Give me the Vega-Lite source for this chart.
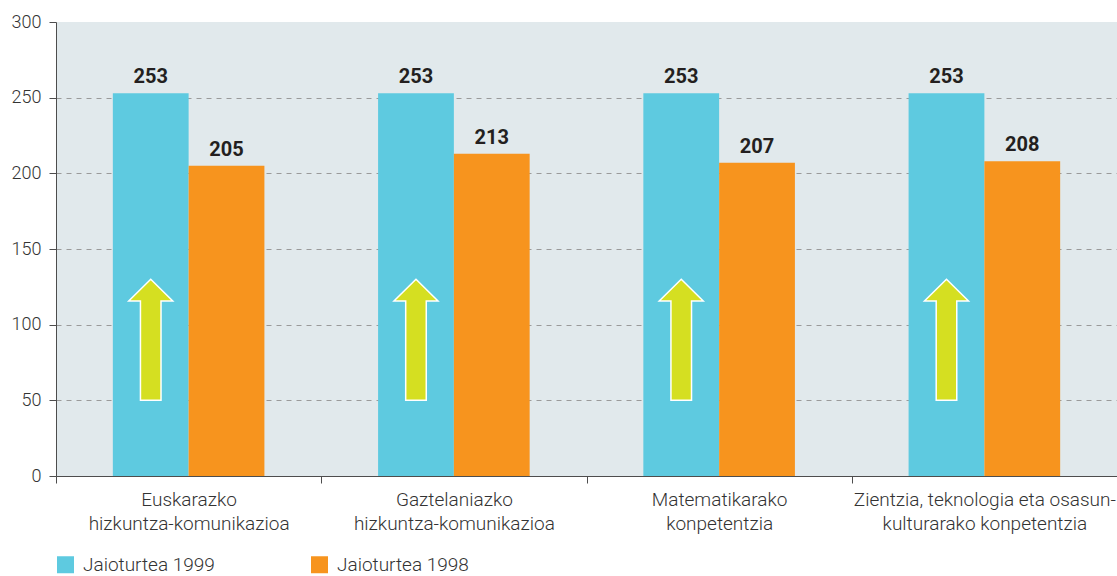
{
  "$schema": "https://vega.github.io/schema/vega-lite/v6.json",
  "width": 1061,
  "height": 454,
  "autosize": {"type": "none"},
  "padding": {"left": 56, "top": 22, "right": 0, "bottom": 100},
  "background": "white",
  "config": {
    "view": {"fill": "#e1e9ec", "stroke": null},
    "font": "Roboto"
  },
  "data": {
    "values": [
      {"cat": "Euskarazko|hizkuntza-komunikazioa", "series": "Jaioturtea 1999", "value": 253, "arrow": 90},
      {"cat": "Euskarazko|hizkuntza-komunikazioa", "series": "Jaioturtea 1998", "value": 205, "arrow": null},
      {"cat": "Gaztelaniazko|hizkuntza-komunikazioa", "series": "Jaioturtea 1999", "value": 253, "arrow": 90},
      {"cat": "Gaztelaniazko|hizkuntza-komunikazioa", "series": "Jaioturtea 1998", "value": 213, "arrow": null},
      {"cat": "Matematikarako|konpetentzia", "series": "Jaioturtea 1999", "value": 253, "arrow": 90},
      {"cat": "Matematikarako|konpetentzia", "series": "Jaioturtea 1998", "value": 207, "arrow": null},
      {"cat": "Zientzia, teknologia eta osasun-|kulturarako konpetentzia", "series": "Jaioturtea 1999", "value": 253, "arrow": 90},
      {"cat": "Zientzia, teknologia eta osasun-|kulturarako konpetentzia", "series": "Jaioturtea 1998", "value": 208, "arrow": null}
    ]
  },
  "encoding": {
    "x": {
      "field": "cat",
      "type": "nominal",
      "sort": null,
      "scale": {"paddingInner": 0, "paddingOuter": 0},
      "axis": {
        "title": null,
        "labelAngle": 0,
        "tickBand": "extent",
        "tickSize": 7,
        "tickColor": "#4d4d4d",
        "domainColor": "#4d4d4d",
        "labelFontSize": 19,
        "labelFontWeight": 300,
        "labelLineHeight": 24,
        "labelLimit": 0,
        "labelPadding": 7,
        "labelColor": "#333333",
        "labelBaseline": "top",
        "labelExpr": "split(datum.label, '|')"
      }
    },
    "xOffset": {
      "field": "series",
      "type": "nominal",
      "sort": ["Jaioturtea 1999", "Jaioturtea 1998"],
      "scale": {"paddingInner": 0, "paddingOuter": 0.75}
    }
  },
  "layer": [
    {
      "mark": {"type": "bar"},
      "encoding": {
        "y": {
          "field": "value",
          "type": "quantitative",
          "scale": {"domain": [0, 300], "nice": false},
          "axis": {
            "title": null,
            "values": [0, 50, 100, 150, 200, 250, 300],
            "tickSize": 7,
            "tickColor": "#4d4d4d",
            "domainColor": "#4d4d4d",
            "labelFontSize": 18,
            "labelFontWeight": 300,
            "labelColor": "#333333",
            "labelPadding": 8,
            "grid": true,
            "gridDash": [5, 5],
            "gridColor": "#9a9a9a",
            "gridOpacity": {"condition": {"test": "datum.value <= 0 || datum.value >= 300", "value": 0}, "value": 1}
          }
        },
        "color": {
          "field": "series",
          "type": "nominal",
          "sort": ["Jaioturtea 1999", "Jaioturtea 1998"],
          "scale": {"domain": ["Jaioturtea 1999", "Jaioturtea 1998"], "range": ["#5ecae0", "#f7941e"]},
          "legend": {
            "title": null,
            "orient": "none",
            "legendX": 0,
            "legendY": 533,
            "direction": "horizontal",
            "symbolType": "square",
            "symbolSize": 289,
            "symbolStrokeWidth": 0,
            "labelFontSize": 19,
            "labelFontWeight": 300,
            "labelOffset": 8,
            "labelColor": "#333333",
            "labelLimit": 0,
            "columnPadding": 95,
            "padding": 0
          }
        }
      }
    },
    {
      "mark": {"type": "text", "baseline": "bottom", "dy": -6, "fontSize": 20, "fontWeight": "bold", "color": "#231f20"},
      "encoding": {
        "y": {"field": "value", "type": "quantitative"},
        "text": {"field": "value", "type": "quantitative"}
      }
    },
    {
      "transform": [{"filter": "datum.arrow != null"}],
      "mark": {
        "type": "point",
        "shape": "M0,-1 L0.364,-0.64 L0.17,-0.64 L0.17,1 L-0.17,1 L-0.17,-0.64 L-0.364,-0.64 Z",
        "filled": true,
        "fill": "#d5df21",
        "stroke": "#ffffff",
        "strokeWidth": 1.5,
        "opacity": 1,
        "size": 14641
      },
      "encoding": {
        "y": {"field": "arrow", "type": "quantitative"}
      }
    }
  ]
}
